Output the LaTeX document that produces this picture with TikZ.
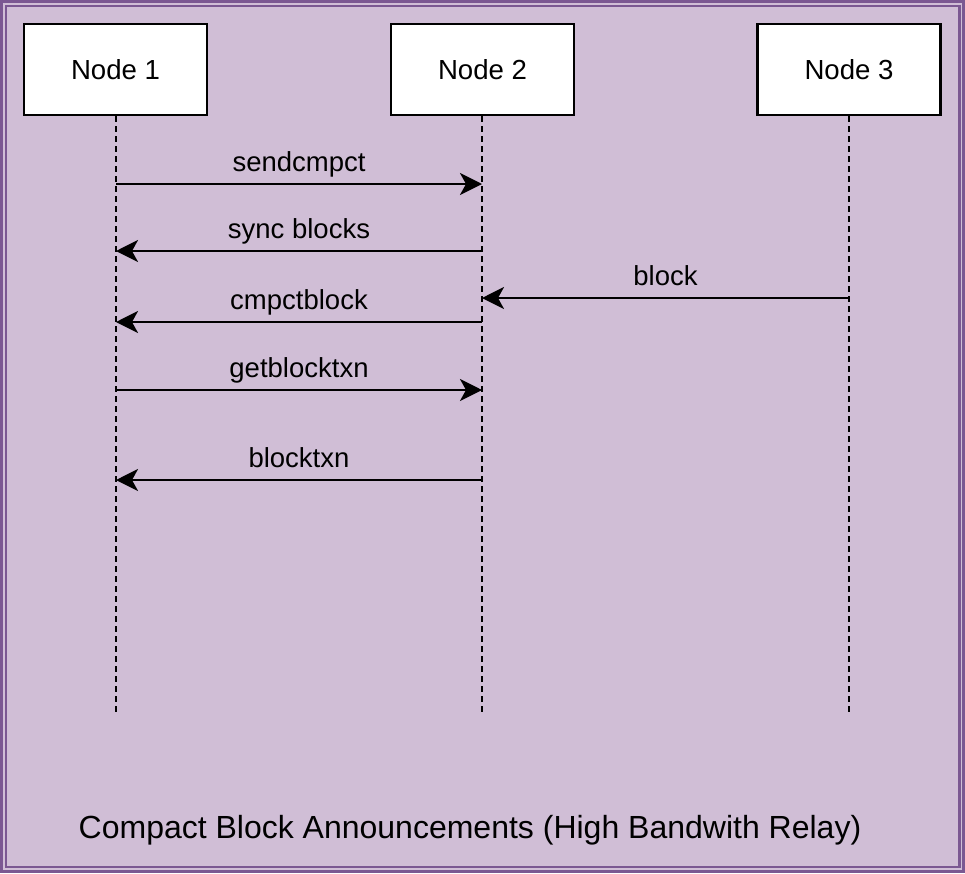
\documentclass[tikz,border=0pt]{standalone}
\usepackage{fontspec}
\setmainfont{Liberation Sans}
\usetikzlibrary{arrows.meta}
\definecolor{panel}{HTML}{D0BED6}
\definecolor{edge}{HTML}{7B5892}
\tikzset{
  actor/.style={draw=black, line width=2.5pt, fill=white, minimum width=183pt,
    minimum height=91pt, inner sep=0pt, font=\fontsize{27.6}{32}\selectfont},
  lifeline/.style={line width=2.3pt, dash pattern=on 6pt off 4pt},
  msg/.style={line width=2.5pt, -{Stealth[length=22pt, width=22pt, inset=6pt]}},
  msgtext/.style={anchor=base, inner sep=0pt, font=\fontsize{27.5}{32}\selectfont},
  frame/.style={draw=edge, line width=2.6pt}
}
\begin{document}
\begin{tikzpicture}[x=1pt, y=-1pt]
  \useasboundingbox (0,0) rectangle (965,873);
  % background panel with double border
  \fill[panel] (0,0) rectangle (965,873);
  \draw[frame] (1.3,1.3) rectangle (963.7,871.6);
  \draw[frame] (5.8,5.8) rectangle (959.4,867.1);

  % participants
  \node[actor] (n1) at (115.5,69.5) {Node 1};
  \node[actor] (n2) at (482.5,69.5) {Node 2};
  \node[actor] (n3) at (849,69.5) {Node 3};

  % lifeline ends
  \coordinate (e1) at (116,712);
  \coordinate (e2) at (482,712);
  \coordinate (e3) at (849,712);
  \draw[lifeline] (n1.south -| e1) -- (e1);
  \draw[lifeline] (n2.south -| e2) -- (e2);
  \draw[lifeline] (n3.south -| e3) -- (e3);

  % message anchors on the lifelines
  \coordinate (a1) at (116,184);   \coordinate (b1) at (482,184);
  \coordinate (a2) at (116,251);   \coordinate (b2) at (482,251);
  \coordinate (c3) at (849,298);   \coordinate (b3) at (482,298);
  \coordinate (a4) at (116,322);   \coordinate (b4) at (482,322);
  \coordinate (a5) at (116,390);   \coordinate (b5) at (482,390);
  \coordinate (a6) at (116,480);   \coordinate (b6) at (482,480);

  % messages
  \draw[msg] (a1) -- (b1) node[msgtext, pos=0.5, yshift=13pt] {sendcmpct};
  \draw[msg] (b2) -- (a2) node[msgtext, pos=0.5, yshift=13pt] {sync blocks};
  \draw[msg] (c3) -- (b3) node[msgtext, pos=0.5, yshift=13pt] {block};
  \draw[msg] (b4) -- (a4) node[msgtext, pos=0.5, yshift=13pt] {cmpctblock};
  \draw[msg] (a5) -- (b5) node[msgtext, pos=0.5, yshift=13pt] {getblocktxn};
  \draw[msg] (b6) -- (a6) node[msgtext, pos=0.5, yshift=13pt] {blocktxn};

  % caption
  \node[anchor=base, inner sep=0pt, font=\fontsize{32}{38}\selectfont] (title) at (470,838)
    {Compact Block Announcements (High Bandwith Relay)};
\end{tikzpicture}
\end{document}
